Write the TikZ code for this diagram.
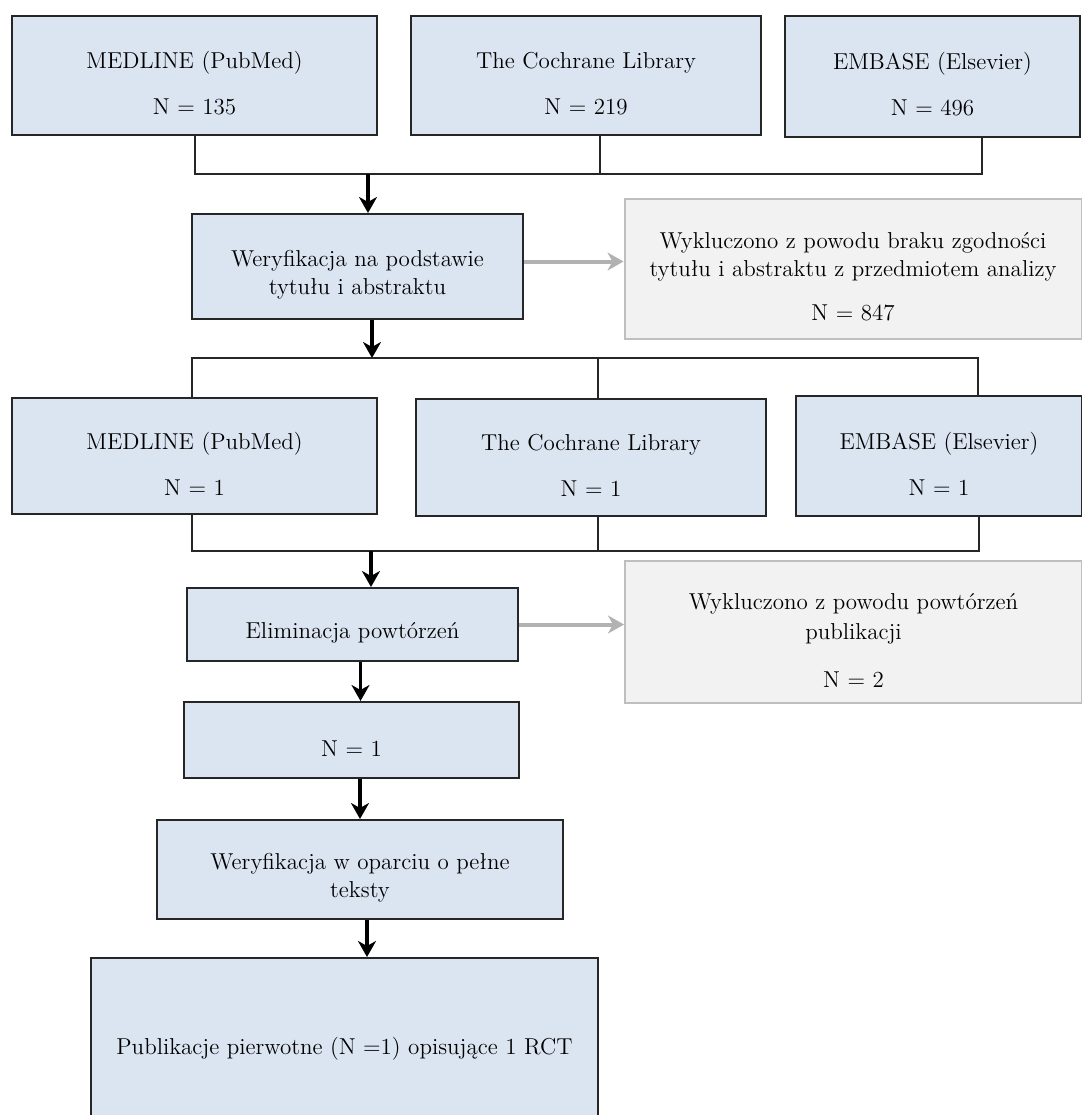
\documentclass[tikz,border=0pt]{standalone}
\usepackage{fontspec}
\usetikzlibrary{arrows.meta}
\definecolor{boxblue}{HTML}{DBE5F1}
\definecolor{boxgray}{HTML}{F2F2F2}
\definecolor{edgegray}{HTML}{BFBFBF}
\definecolor{arrowgray}{HTML}{B2B2B2}
\newcommand{\lift}{\rule{0pt}{16pt}}
\begin{document}
\begin{tikzpicture}[x=0.5pt, y=-0.5pt,
    every node/.style={font=\fontsize{11.5}{14}\selectfont, align=center},
    srcbox/.style={draw=black!85, fill=boxblue, line width=1pt, inner sep=0pt},
    outbox/.style={draw=edgegray, fill=boxgray, line width=1pt, inner sep=0pt},
    joint/.style={draw=black!85, line width=1pt},
    flow/.style={draw=black, line width=1.6pt, -{Stealth[length=8pt,width=9pt,inset=2.5pt]}},
    side/.style={draw=arrowgray, line width=2pt, -{Stealth[length=8pt,width=9pt,inset=2.5pt]}}]
  \useasboundingbox (0,0) rectangle (1082,1115);
  % databases, first search
  \node[srcbox, minimum width=182.5pt, minimum height=59.5pt] (med1) at (194.5,75.5) {\lift MEDLINE (PubMed)\\[9pt]N = 135};
  \node[srcbox, minimum width=175pt, minimum height=59.5pt] (coch1) at (586,75.5) {\lift The Cochrane Library\\[9pt]N = 219};
  \node[srcbox, minimum width=147.5pt, minimum height=60.5pt] (emb1) at (932.5,76.5) {\lift EMBASE (Elsevier)\\[9pt]N = 496};
  \coordinate (k1) at (600,174); \coordinate (k2) at (982,174); \coordinate (m1) at (368,174);
  \draw[joint] (med1.south) |- (k2) -- (k2 |- emb1.south);
  \draw[joint] (k1) -- (k1 |- coch1.south);
  % screening of titles and abstracts
  \node[srcbox, minimum width=165.5pt, minimum height=52.5pt] (title) at (357.5,266.5) {\lift Weryfikacja na podstawie\\tytułu i abstraktu};
  \node[outbox, minimum width=228.5pt, minimum height=70pt] (excl1) at (853,269) {\lift Wykluczono z powodu braku zgodności\\tytułu i abstraktu z przedmiotem analizy\\[8pt]N = 847};
  \draw[flow] (m1) -- (m1 |- title.north);
  \draw[side] ([yshift=2.5pt]title.east) -- ([yshift=2.5pt]title.east -| excl1.west);
  % databases after screening
  \coordinate (m2) at (372,358); \coordinate (k3) at (192,358); \coordinate (k4) at (598,358); \coordinate (k5) at (978,358);
  \node[srcbox, minimum width=182.5pt, minimum height=58pt] (med2) at (194.5,456) {\lift MEDLINE (PubMed)\\[9pt]N = 1};
  \node[srcbox, minimum width=175pt, minimum height=58.5pt] (coch2) at (591,457.5) {\lift The Cochrane Library\\[9pt]N = 1};
  \node[srcbox, minimum width=143pt, minimum height=60pt] (emb2) at (939,456) {\lift EMBASE (Elsevier)\\[9pt]N = 1};
  \draw[flow] (m2 |- title.south) -- (m2);
  \draw[joint] (k3 |- med2.north) |- (k5) -- (k5 |- emb2.north);
  \draw[joint] (k4) -- (k4 |- coch2.north);
  \coordinate (m3) at (371,551); \coordinate (k6) at (192,551); \coordinate (k7) at (598,551); \coordinate (k8) at (979,551);
  \draw[joint] (k6 |- med2.south) |- (k8) -- (k8 |- emb2.south);
  \draw[joint] (k7) -- (k7 |- coch2.south);
  % duplicates
  \node[srcbox, minimum width=165.5pt, minimum height=36.5pt] (dupl) at (352.5,624.5) {\lift Eliminacja powtórzeń};
  \node[outbox, minimum width=228.5pt, minimum height=71pt] (excl2) at (853.5,632) {\lift Wykluczono z powodu powtórzeń\\[1pt]publikacji\\[10pt]N = 2};
  \draw[flow] (m3) -- (m3 |- dupl.north);
  \draw[side] (dupl.east) -- (dupl.east -| excl2.west);
  % full texts
  \node[srcbox, minimum width=167.5pt, minimum height=38pt] (left) at (351.5,740) {\lift N = 1};
  \node[srcbox, minimum width=203pt, minimum height=49.5pt] (full) at (360,869.5) {\lift Weryfikacja w oparciu o pełne\\teksty};
  \node[srcbox, minimum width=253.5pt, minimum height=83.5pt] (final) at (344.5,1041.5) {\lift Publikacje pierwotne (N =1) opisujące 1 RCT};
  \draw[flow] ([xshift=4pt]dupl.south) -- ([xshift=4pt]dupl.south |- left.north);
  \draw[flow] (left.south -| full.north) -- (full.north);
  \draw[flow] ([xshift=3.5pt]full.south) -- ([xshift=3.5pt]full.south |- final.north);
\end{tikzpicture}
\end{document}
